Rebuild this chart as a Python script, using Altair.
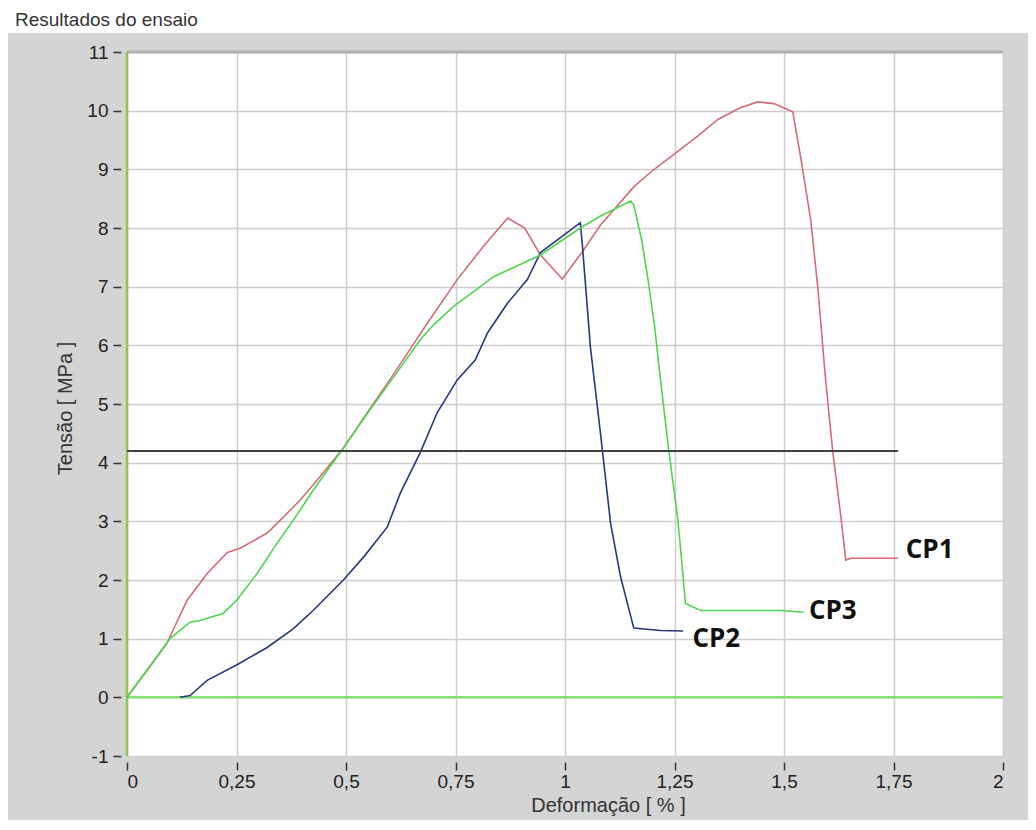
import altair as alt
import pandas as pd

TITLE = "Resultados do ensaio"
X_TITLE = "Deformação [ % ]"
Y_TITLE = "Tensão [ MPa ]"

X_TICKS = [0, 0.25, 0.5, 0.75, 1, 1.25, 1.5, 1.75, 2]
Y_TICKS = [-1, 0, 1, 2, 3, 4, 5, 6, 7, 8, 9, 10, 11]

# CP1 (red)
cp1_x = [0, 0.045, 0.091, 0.137, 0.183, 0.229, 0.258, 0.32, 0.35, 0.395, 0.434, 0.494,
         0.55, 0.608, 0.686, 0.754, 0.813, 0.869, 0.908, 0.944, 0.994, 1.04, 1.081,
         1.157, 1.2, 1.248, 1.30, 1.349, 1.40, 1.44, 1.477, 1.52, 1.538, 1.561, 1.577,
         1.595, 1.611, 1.63, 1.641, 1.653, 1.76]
cp1_y = [0, 0.45, 0.92, 1.65, 2.11, 2.47, 2.54, 2.8, 3.02, 3.36, 3.7, 4.25,
         4.87, 5.5, 6.38, 7.12, 7.68, 8.17, 8.0, 7.54, 7.13, 7.6, 8.05,
         8.7, 8.98, 9.25, 9.55, 9.85, 10.05, 10.15, 10.12, 9.98, 9.21, 8.14, 7.0,
         5.41, 4.21, 3.07, 2.34, 2.37, 2.37]

# CP2 (blue)
cp2_x = [0.121, 0.144, 0.183, 0.25, 0.32, 0.38, 0.425, 0.494, 0.54, 0.594, 0.624, 0.67,
         0.708, 0.754, 0.795, 0.823, 0.869, 0.914, 0.944, 1.035, 1.04, 1.058, 1.081,
         1.104, 1.127, 1.157, 1.218, 1.27]
cp2_y = [0, 0.03, 0.29, 0.55, 0.85, 1.17, 1.48, 2.0, 2.39, 2.9, 3.48, 4.18,
         4.85, 5.41, 5.75, 6.21, 6.72, 7.12, 7.58, 8.09, 7.68, 5.97, 4.5,
         2.97, 2.05, 1.18, 1.14, 1.13]

# CP3 (green)
cp3_x = [0, 0.098, 0.144, 0.167, 0.219, 0.25, 0.297, 0.343, 0.38, 0.425, 0.494, 0.55,
         0.608, 0.67, 0.70, 0.745, 0.837, 0.944, 1.035, 1.08, 1.15, 1.157, 1.175, 1.19,
         1.205, 1.218, 1.237, 1.257, 1.268, 1.275, 1.31, 1.493, 1.545]
cp3_y = [0, 1.0, 1.28, 1.31, 1.43, 1.65, 2.11, 2.63, 3.02, 3.53, 4.25, 4.85,
         5.45, 6.1, 6.35, 6.66, 7.17, 7.54, 8.0, 8.2, 8.46, 8.39, 7.8, 7.1,
         6.3, 5.41, 4.21, 3.07, 2.2, 1.6, 1.48, 1.48, 1.45]

SERIES = ["CP1", "CP2", "CP3"]
COLORS = ["#d56c76", "#27397d", "#4fd64f"]

LABEL_X = [1.778, 1.291, 1.557]
LABEL_Y = [2.51, 0.99, 1.47]

REF_Y = 4.2
REF_X0 = 0
REF_X1 = 1.76

rows = []
for name, xs, ys in [("CP1", cp1_x, cp1_y), ("CP2", cp2_x, cp2_y), ("CP3", cp3_x, cp3_y)]:
    for i, (a, b) in enumerate(zip(xs, ys)):
        rows.append({"serie": name, "i": i, "x": a, "y": b})
curves = pd.DataFrame(rows)
labels = pd.DataFrame({"serie": SERIES, "x": LABEL_X, "y": LABEL_Y})
ref = pd.DataFrame({"x": [REF_X0], "x2": [REF_X1], "y": [REF_Y]})
one = pd.DataFrame({"t": [TITLE]})

xscale = alt.Scale(domain=[0, 2], nice=False, zero=False)
yscale = alt.Scale(domain=[-1, 11], nice=False, zero=False)
color = alt.Color("serie:N", scale=alt.Scale(domain=SERIES, range=COLORS), legend=None)

xaxis = alt.Axis(values=X_TICKS, labelExpr="replace(datum.value + '', '.', ',')",
                 grid=True, gridColor="#cdcdcd", gridWidth=1.5, domain=False,
                 tickColor="#333333", tickSize=8, tickWidth=1.5, offset=6,
                 labelPadding=2, labelFontSize=19, labelFont="Liberation Sans",
                 labelColor="#222222", title=X_TITLE, titleFont="Liberation Sans",
                 titleFontSize=20, titleFontWeight="normal", titleColor="#333333",
                 titleX=481, titleY=43, titleBaseline="middle", titleAlign="center")
yaxis = alt.Axis(values=Y_TICKS, labelExpr="datum.value + ''",
                 grid=True, gridColor="#cdcdcd", gridWidth=1.5, domain=False,
                 tickColor="#333333", tickSize=8, tickWidth=1.5, offset=6,
                 labelPadding=5, labelFontSize=19, labelFont="Liberation Sans",
                 labelColor="#222222", title=Y_TITLE, titleFont="Liberation Sans",
                 titleFontSize=20, titleFontWeight="normal", titleColor="#333333",
                 titleX=-56, titleY=356, titleBaseline="middle", titleAlign="center",
                 titleAngle=270)

base_axes = alt.Chart(curves).mark_line(opacity=0).encode(
    x=alt.X("x:Q", scale=xscale, axis=xaxis),
    y=alt.Y("y:Q", scale=yscale, axis=yaxis),
    detail="serie:N",
)

top_strip = alt.Chart(one).mark_rect(color="#ffffff").encode(
    x=alt.value(-119), x2=alt.value(901), y=alt.value(-44), y2=alt.value(-19)
)
title_txt = alt.Chart(one).mark_text(align="left", baseline="middle", fontSize=19,
                                     font="Liberation Sans", color="#333333").encode(
    x=alt.value(-112), y=alt.value(-32), text="t:N"
)

top_frame = alt.Chart(one).mark_rule(color="#b2b2b2", strokeWidth=3).encode(
    y=alt.datum(11, scale=yscale)
)
zero_line = alt.Chart(one).mark_rule(color="#86e070", strokeWidth=2.5).encode(
    y=alt.datum(0, scale=yscale)
)
left_line = alt.Chart(one).mark_rule(color="#8cc84e", strokeWidth=2.5).encode(
    x=alt.datum(0, scale=xscale)
)

lines = alt.Chart(curves).mark_line(strokeWidth=1.6).encode(
    x=alt.X("x:Q", scale=xscale),
    y=alt.Y("y:Q", scale=yscale),
    color=color,
    order="i:Q",
)

ref_line = alt.Chart(ref).mark_rule(color="#404040", strokeWidth=2).encode(
    x=alt.X("x:Q", scale=xscale), x2="x2:Q", y=alt.Y("y:Q", scale=yscale)
)

label_txt = alt.Chart(labels).mark_text(align="left", baseline="middle", fontSize=26,
                                        font="Open Sans", fontWeight="bold",
                                        color="#111111").encode(
    x=alt.X("x:Q", scale=xscale), y=alt.Y("y:Q", scale=yscale), text="serie:N"
)

chart = alt.layer(
    base_axes, top_frame, zero_line, left_line, lines, ref_line, label_txt,
    top_strip, title_txt
).properties(
    width=876, height=704,
    autosize=alt.AutoSizeParams(type="none"),
    padding={"left": 119, "top": 44, "right": 25, "bottom": 64},
    background="#d4d4d4",
).configure_view(fill="#ffffff", strokeWidth=0)

chart.save("out.html", embed_options={"renderer": "svg", "actions": False})
